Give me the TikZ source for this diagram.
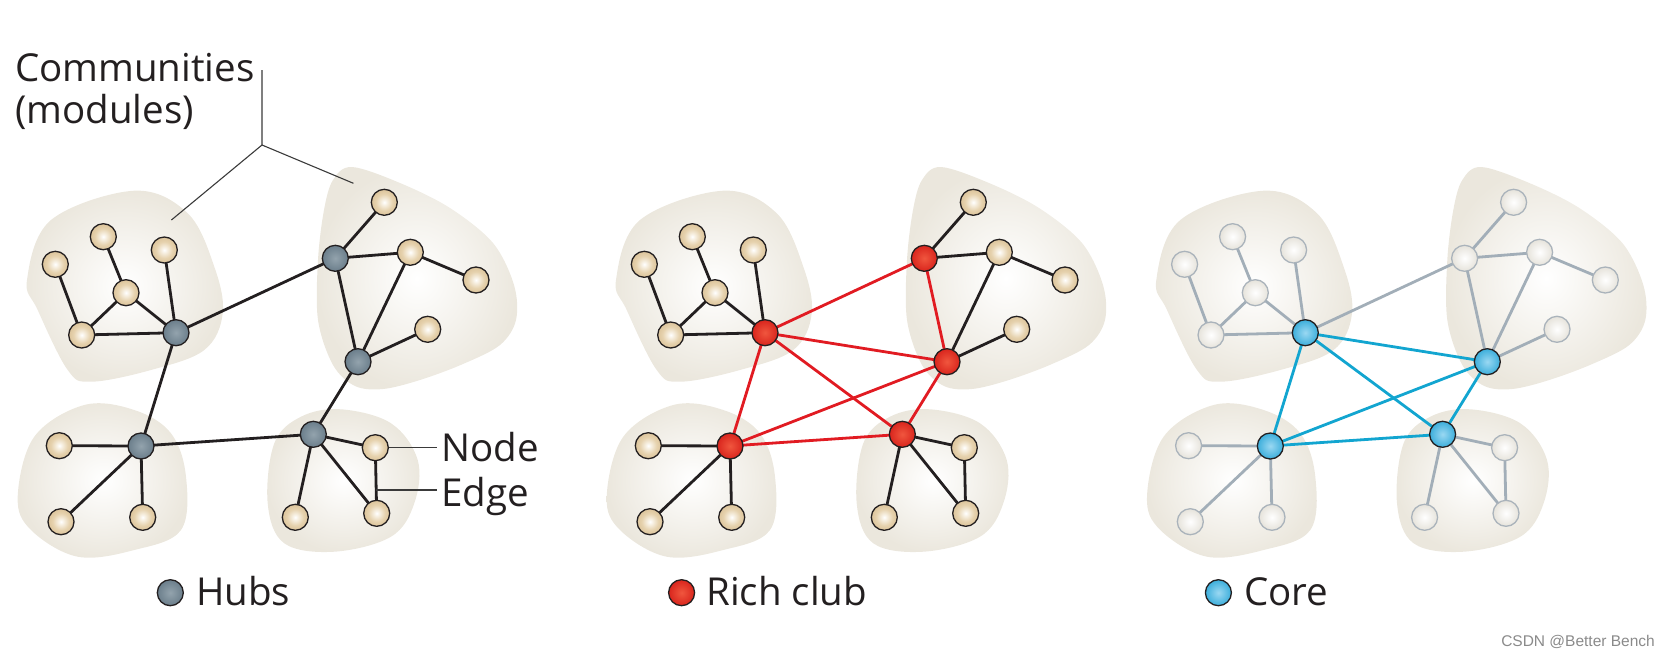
\documentclass[tikz,border=0pt]{standalone}
\usepackage{fontspec}
\setmainfont{Open Sans}
\newfontfamily\wmfont{Liberation Sans}
\definecolor{blobc}{HTML}{EBE7DD}
\definecolor{leafhi}{HTML}{F6EEDF}
\definecolor{leafc}{HTML}{E6D2AE}
\definecolor{leafrim}{HTML}{DCC49B}
\definecolor{inkc}{HTML}{231F20}
\definecolor{hubc}{HTML}{6B7E8B}
\definecolor{hubin}{HTML}{93A3AD}
\definecolor{redc}{HTML}{D9251D}
\definecolor{redin}{HTML}{F0563E}
\definecolor{rededge}{HTML}{E11B22}
\definecolor{cyanc}{HTML}{3CAEDB}
\definecolor{cyanin}{HTML}{9AD8F2}
\definecolor{cyanedge}{HTML}{12A5D0}
\definecolor{greyedge}{HTML}{A2AEB8}
\definecolor{paleleaf}{HTML}{E6E3DB}
\definecolor{paleborder}{HTML}{AAB3BB}
\definecolor{leadc}{HTML}{3A3A3A}
\definecolor{wmc}{HTML}{8A8A8A}
\pgfdeclareradialshading{leafshade}{\pgfpoint{0bp}{0bp}}{color(0bp)=(white); color(6bp)=(leafhi); color(16bp)=(leafc); color(25bp)=(leafrim); color(50bp)=(leafrim)}
\pgfdeclarelayer{blobl}
\pgfdeclarelayer{edgel}
\pgfsetlayers{blobl,edgel,main}
\tikzset{
  ball/.style={circle, minimum size=26pt, inner sep=0pt, line width=1.3pt},
  leafnode/.style={ball, draw=inkc, shading=leafshade},
  paleleafnode/.style={ball, draw=paleborder, inner color=white, outer color=paleleaf},
  hubnode/.style={ball, draw=inkc, inner color=hubin, outer color=hubc},
  richnode/.style={ball, draw=inkc, inner color=redin, outer color=redc},
  corenode/.style={ball, draw=inkc, inner color=cyanin, outer color=cyanc},
  inkline/.style={draw=inkc, line width=2.8pt},
  redline/.style={draw=rededge, line width=2.8pt},
  cyanline/.style={draw=cyanedge, line width=2.8pt},
  greyline/.style={draw=greyedge, line width=2.8pt},
  blobfill/.style={inner color=white, outer color=blobc},
  leader/.style={draw=leadc, line width=1.1pt},
  bigtext/.style={anchor=base west, inner sep=0pt, text=inkc, font=\fontsize{38.5}{44}\selectfont},
}
% #1 prefix, #2 shift, #3 leaf style, #4 hub style, #5 style of H2
\newcommand\netpanel[5]{%
\begin{scope}[xshift=#2]
\begin{pgfonlayer}{blobl}
\path[blobfill] plot[smooth cycle,tension=0.6] coordinates {(27,280) (51,220) (134.3,190.7) (187.7,213.3) (214.3,266.7) (222.7,313.3) (204.3,350) (151,370) (91,381.7) (67.7,370) (37.7,310)};
\path[blobfill] plot[smooth cycle,tension=0.55] coordinates {(333,180) (352,167) (400,183) (450,208) (493,243) (514,285) (516,320) (500,345) (463,364) (420,380) (383,389) (355,386) (333,365) (318,320) (318,260) (324,210)};
\path[blobfill] plot[smooth cycle,tension=0.6] coordinates {(17.7,496.7) (34.3,436.7) (84.3,405) (134.3,410) (171,433.3) (186,476.7) (181,530) (134.3,550) (77.7,556.7) (31,530)};
\path[blobfill] plot[smooth cycle,tension=0.6] coordinates {(267.7,503.3) (274.3,443.3) (301,416.7) (341,409.3) (391,423.3) (417.7,460) (414.3,503.3) (391,536.7) (334.3,551.7) (284.3,543.3)};
\end{pgfonlayer}
\node[#3] (#1A1) at (55.3,264.3) {};
\node[#3] (#1A2) at (103.3,236.7) {};
\node[#3] (#1A3) at (164.3,250) {};
\node[#3] (#1A4) at (126,292.7) {};
\node[#3] (#1A5) at (81.7,335) {};
\node[#4] (#1H1) at (176,332.7) {};
\node[#3] (#1B1) at (384.3,202.3) {};
\node[#5] (#1H2) at (335.3,258.3) {};
\node[#3] (#1B2) at (410.3,252.3) {};
\node[#3] (#1B3) at (476,280) {};
\node[#3] (#1B4) at (427.7,329.3) {};
\node[#4] (#1H3) at (358,361.7) {};
\node[#3] (#1C1) at (59.3,445.7) {};
\node[#4] (#1H4) at (141,446) {};
\node[#3] (#1C2) at (61,521.7) {};
\node[#3] (#1C3) at (142.7,517.3) {};
\node[#4] (#1H5) at (313.3,434.3) {};
\node[#3] (#1D1) at (375.3,447.7) {};
\node[#3] (#1D2) at (295.3,517.3) {};
\node[#3] (#1D3) at (376.7,513.3) {};
\end{scope}}
\newcommand\linkset[3]{% #1 prefix, #2 style, #3 list (macro or braced list)
\begin{pgfonlayer}{edgel}
\foreach \a/\b in #3 {\draw[#2] (#1\a.center) -- (#1\b.center);}
\end{pgfonlayer}}
\newcommand\intralist{A1/A5, A2/A4, A4/A5, A4/H1, A3/H1, A5/H1, H2/B1, H2/B2, B2/B3, B2/H3, H3/B4, H4/C1, H4/C2, H4/C3, H5/D1, H5/D2, H5/D3, D1/D3}
\begin{document}
\begin{tikzpicture}[x=1pt,y=-1pt]
\useasboundingbox (0,0) rectangle (1670,656);
% panel 1: hubs
\netpanel{p}{0pt}{leafnode}{hubnode}{hubnode}
\linkset{p}{inkline}{\intralist}
\linkset{p}{inkline}{{H1/H2, H1/H4, H2/H3, H3/H5, H4/H5}}
% panel 2: rich club
\netpanel{q}{589pt}{leafnode}{richnode}{richnode}
\linkset{q}{inkline}{\intralist}
\linkset{q}{redline}{{H1/H2, H1/H3, H1/H4, H1/H5, H2/H3, H3/H4, H3/H5, H4/H5}}
% panel 3: core
\netpanel{r}{1129.3pt}{paleleafnode}{corenode}{paleleafnode}
\linkset{r}{greyline}{\intralist}
\linkset{r}{greyline}{{H1/H2, H2/H3}}
\linkset{r}{cyanline}{{H1/H3, H1/H4, H1/H5, H3/H4, H3/H5, H4/H5}}
% labels
\node[bigtext] (commlbl) at (15,81.7) {Communities};
\node[bigtext] (modlbl) at (15,123) {(modules)};
\coordinate (ldtop) at (262,70);
\coordinate (ldj) at (262,145);
\coordinate (ldl) at (171.4,220);
\coordinate (ldr) at (353.4,183.3);
\draw[leader] (ldtop) -- (ldj) -- (ldl);
\draw[leader] (ldj) -- (ldr);
\node[bigtext] (nodelbl) at (441,461.7) {Node};
\node[bigtext] (edgelbl) at (441,506.7) {Edge};
\coordinate (nodeend) at (437.4,447.7);
\coordinate (edgestart) at (376.2,490);
\coordinate (edgeend) at (437.4,490);
\draw[leader] (pD1.east) -- (nodeend);
\draw[leader] (edgestart) -- (edgeend);
% legend
\node[hubnode] (lg1) at (170.3,592.7) {};
\node[bigtext] (lg1t) at (196,605) {Hubs};
\node[richnode] (lg2) at (681.6,592.7) {};
\node[bigtext] (lg2t) at (706,605) {Rich club};
\node[corenode] (lg3) at (1218.4,592.7) {};
\node[bigtext] (lg3t) at (1244,605) {Core};
\node[anchor=base east, inner sep=0pt, text=wmc, font=\wmfont\fontsize{15.5}{18}\selectfont] (wm) at (1655,646.7) {CSDN @Better Bench};
\end{tikzpicture}
\end{document}
